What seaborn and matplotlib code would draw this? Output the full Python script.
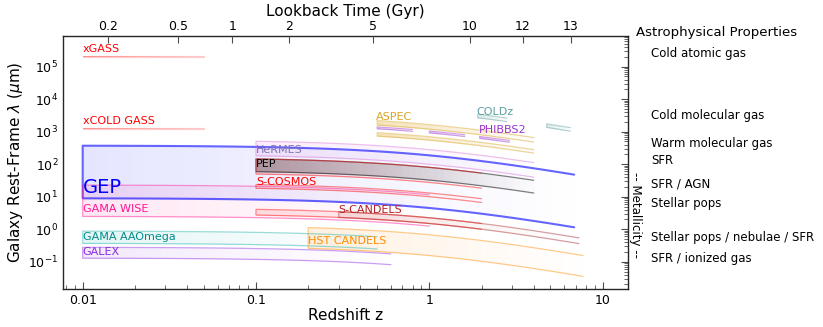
import numpy as np
import pandas as pd
import matplotlib
matplotlib.use("Agg")
import matplotlib.pyplot as plt
import matplotlib.transforms as mtransforms
import seaborn as sns

# ---- survey footprints: one row per band segment ----
# wavelengths in micron (observed frame unless rest_frame is True)
band_survey = ['xGASS', 'xCOLD GASS', 'GEP', 'GAMA WISE', 'HeRMES', 'PEP',
               'S-COSMOS', 'S-COSMOS', 'S-COSMOS', 'S-CANDELS',
               'ASPEC', 'ASPEC', 'COLDz', 'COLDz', 'PHIBBS2', 'PHIBBS2', 'PHIBBS2',
               'GAMA AAOmega', 'GALEX', 'HST CANDELS']
lam_lo = [2.0e5, 1230, 9, 2.5, 200, 65,
          55, 20, 3.0, 3.0,
          2400, 1100, 7800, 7800, 1850, 1850, 1850,
          0.37, 0.13, 0.31]
lam_hi = [2.15e5, 1320, 375, 23, 560, 160,
          160, 26, 4.5, 4.5,
          3300, 1400, 10000, 10000, 2100, 2100, 2100,
          0.88, 0.28, 1.35]
z_lo = [0.01, 0.01, 0.01, 0.01, 0.1, 0.1,
        0.1, 0.1, 0.1, 0.3,
        0.5, 0.5, 1.9, 4.75, 0.5, 1.0, 1.95,
        0.01, 0.01, 0.2]
z_hi = [0.05, 0.05, 6.85, 1.0, 4.0, 4.0,
        2.0, 2.0, 2.0, 7.3,
        4.0, 4.0, 2.8, 6.5, 0.8, 1.6, 2.9,
        0.5, 0.6, 7.7]
rest_frame = [True, True] + [False] * 18

# survey labels
label_text = ['xGASS', 'xCOLD GASS', 'GEP', 'GAMA WISE', 'HeRMES', 'PEP', 'S-COSMOS',
              'S-CANDELS', 'ASPEC', 'COLDz', 'PHIBBS2', 'GAMA AAOmega', 'GALEX', 'HST CANDELS']
label_z = [0.01, 0.01, 0.01, 0.01, 0.1, 0.1, 0.1, 0.3, 0.49, 1.88, 1.92, 0.01, 0.01, 0.2]
label_lam = [3.6e5, 2.2e3, 19.5, 4.1, 270, 100, 28, 3.85, 2800, 4000, 1110, 0.57, 0.196, 0.43]

# astrophysical properties traced (right-hand column)
prop_names = ['Cold atomic gas', 'Cold molecular gas', 'Warm molecular gas', 'SFR',
              'SFR / AGN', 'Stellar pops', 'Stellar pops / nebulae / SFR', 'SFR / ionized gas']
prop_lam = [2.6e5, 3200, 440, 133, 24, 6.3, 0.57, 0.128]

# lookback time ticks (Gyr)
lookback_ticks = [0.2, 0.5, 1, 2, 5, 10, 12, 13]

colors = {'xGASS': 'red', 'xCOLD GASS': 'red', 'GEP': 'blue', 'GAMA WISE': 'deeppink',
          'HeRMES': 'orchid', 'PEP': 'black', 'S-COSMOS': 'red', 'S-CANDELS': 'brown',
          'ASPEC': 'goldenrod', 'COLDz': 'cadetblue', 'PHIBBS2': 'darkorchid',
          'GAMA AAOmega': 'lightseagreen', 'GALEX': 'blueviolet', 'HST CANDELS': 'darkorange'}
text_colors = dict(colors, **{'HeRMES': 'm', 'GAMA AAOmega': 'darkcyan', 'S-CANDELS': 'firebrick'})
fill_alpha = {'xGASS': 0.3, 'xCOLD GASS': 0.3, 'GEP': 0.1, 'GAMA WISE': 0.1, 'HeRMES': 0.12,
              'PEP': 0.3, 'S-COSMOS': 0.1, 'S-CANDELS': 0.1, 'ASPEC': 0.3, 'COLDz': 0.2,
              'PHIBBS2': 0.2, 'GAMA AAOmega': 0.12, 'GALEX': 0.1, 'HST CANDELS': 0.12}
edge_alpha = {'GEP': 0.6, 'PEP': 0.5, 'xGASS': 0.2, 'xCOLD GASS': 0.2}

sns.set_theme(style='white')
plt.rcParams['font.family'] = ['DejaVu Sans']
plt.rcParams.update({'text.color': 'black', 'axes.labelcolor': 'black',
                     'xtick.color': 'black', 'ytick.color': 'black',
                     'xtick.direction': 'in', 'ytick.direction': 'in'})

fig = plt.figure(figsize=(8.23, 3.27), dpi=100)
ax = fig.add_axes([63 / 823, 1 - 289 / 327, 565 / 823, 253 / 327])
ax.set_xscale('log')
ax.set_yscale('log')

nslice = 40
for s, lo, hi, z0, z1, rf in zip(band_survey, lam_lo, lam_hi, z_lo, z_hi, rest_frame):
    c = colors[s]
    z = np.logspace(np.log10(z0), np.log10(z1), nslice + 1)
    shift = np.ones_like(z) if rf else (1 + z0) / (1 + z)
    low = lo / (1 + (0 if rf else z0)) * shift
    high = hi / (1 + (0 if rf else z0)) * shift
    a0 = fill_alpha[s]
    for i in range(nslice):
        fade = 1 - i / nslice
        ax.fill_between(z[i:i + 2], low[i:i + 2], high[i:i + 2], color=c,
                        alpha=a0 * fade, lw=0)
    edge = pd.DataFrame({'z': np.concatenate([z[::-1], z]),
                         'lam': np.concatenate([high[::-1], low])})
    sns.lineplot(data=edge, x='z', y='lam', ax=ax, color=c, sort=False, estimator=None,
                 lw=1.5 if s == 'GEP' else 0.9, alpha=edge_alpha.get(s, 0.45))

for t, zz, ll in zip(label_text, label_z, label_lam):
    ax.text(zz, ll, t, color=text_colors[t], fontsize=14 if t == 'GEP' else 8,
            ha='left', va='center')

ax.set_xlim(0.0077, 14)
ax.set_ylim(0.0145, 8.8e5)
ax.set_xticks([0.01, 0.1, 1, 10])
ax.set_xticklabels(['0.01', '0.1', '1', '10'])
ax.set_yticks([1e-1, 1, 1e1, 1e2, 1e3, 1e4, 1e5])
ax.tick_params(axis='both', which='major', labelsize=9, length=5, width=0.8,
               top=False, right=True, color='0.3')
ax.tick_params(axis='both', which='minor', length=3, width=0.6, top=False, right=True, color='0.3')
ax.set_xlabel('Redshift z', fontsize=11, labelpad=1)
ax.set_ylabel(r'Galaxy Rest-Frame $\lambda$ ($\mu$m)', fontsize=11, labelpad=2)
for sp in ax.spines.values():
    sp.set_color('0.15')
    sp.set_linewidth(1.0)

# lookback time axis (Planck-like cosmology)
H0, Om = 67.7, 0.307
zg = np.concatenate([[0], np.logspace(-4, 2, 6000)])
integ = 1 / ((1 + zg) * np.sqrt(Om * (1 + zg) ** 3 + 1 - Om))
tl = np.concatenate([[0], np.cumsum(0.5 * (integ[1:] + integ[:-1]) * np.diff(zg))]) * 977.8 / H0
z_ticks = np.interp(lookback_ticks, tl, zg)

top = ax.twiny()
top.set_xscale('log')
top.set_xlim(ax.get_xlim())
top.set_xticks(z_ticks)
top.set_xticklabels([f'{t:g}' for t in lookback_ticks])
top.xaxis.set_minor_locator(matplotlib.ticker.NullLocator())
top.tick_params(axis='x', which='major', labelsize=9, length=5, width=0.8,
                direction='in', color='0.3', pad=2)
top.set_xlabel('Lookback Time (Gyr)', fontsize=11, labelpad=3)
for sp in top.spines.values():
    sp.set_visible(False)

# right-hand column
trans = mtransforms.blended_transform_factory(ax.transAxes, ax.transData)
ax.text(1.0142, 1.012, 'Astrophysical Properties', transform=ax.transAxes, fontsize=9.5,
        ha='left', va='center')
for name, lam in zip(prop_names, prop_lam):
    ax.text(1.041, lam, name, transform=trans, fontsize=8.5, ha='left', va='center')
ax.text(1.0125, 2.7, '-- Metallicity --', transform=trans, fontsize=8.5, rotation=-90,
        ha='center', va='center')

fig.savefig('out.png', dpi=100)
